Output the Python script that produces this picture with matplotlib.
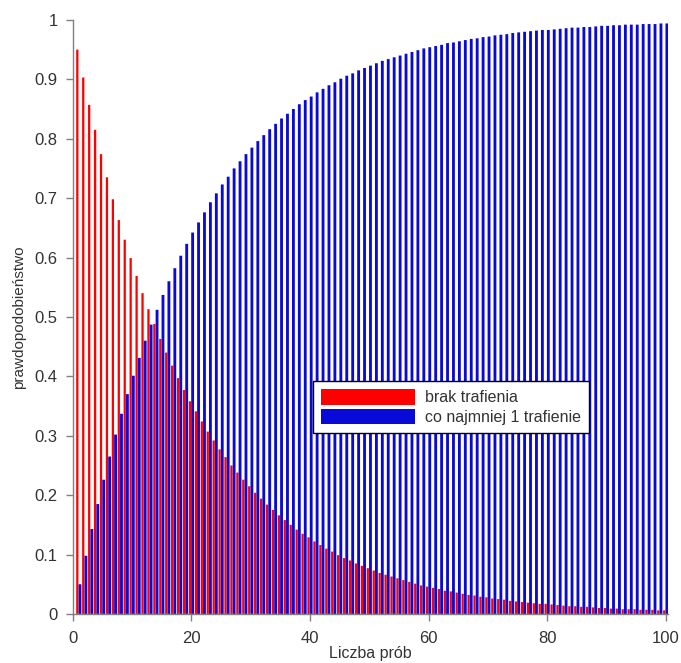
import numpy as np
import matplotlib.pyplot as plt

plt.rcParams['font.family'] = ['Liberation Sans', 'DejaVu Sans']

# number of trials
trials = np.arange(1, 101)

# probability of no hit
p_miss = [
    0.950, 0.903, 0.857, 0.815, 0.774, 0.735, 0.698, 0.663, 0.630, 0.599,
    0.569, 0.540, 0.513, 0.488, 0.463, 0.440, 0.418, 0.397, 0.377, 0.358,
    0.341, 0.324, 0.307, 0.292, 0.277, 0.264, 0.250, 0.238, 0.226, 0.215,
    0.204, 0.194, 0.184, 0.175, 0.166, 0.158, 0.150, 0.142, 0.135, 0.129,
    0.122, 0.116, 0.110, 0.105, 0.099, 0.094, 0.090, 0.085, 0.081, 0.077,
    0.073, 0.069, 0.066, 0.063, 0.060, 0.057, 0.054, 0.051, 0.048, 0.046,
    0.044, 0.042, 0.039, 0.038, 0.036, 0.034, 0.032, 0.031, 0.029, 0.028,
    0.026, 0.025, 0.024, 0.022, 0.021, 0.020, 0.019, 0.018, 0.017, 0.017,
    0.016, 0.015, 0.014, 0.013, 0.013, 0.012, 0.012, 0.011, 0.010, 0.010,
    0.009, 0.009, 0.008, 0.008, 0.008, 0.007, 0.007, 0.007, 0.006, 0.006,
]

# probability of at least one hit
p_hit = [
    0.050, 0.098, 0.143, 0.185, 0.226, 0.265, 0.302, 0.337, 0.370, 0.401,
    0.431, 0.460, 0.487, 0.512, 0.537, 0.560, 0.582, 0.603, 0.623, 0.642,
    0.659, 0.676, 0.693, 0.708, 0.723, 0.736, 0.750, 0.762, 0.774, 0.785,
    0.796, 0.806, 0.816, 0.825, 0.834, 0.842, 0.850, 0.858, 0.865, 0.871,
    0.878, 0.884, 0.890, 0.895, 0.901, 0.906, 0.910, 0.915, 0.919, 0.923,
    0.927, 0.931, 0.934, 0.937, 0.940, 0.943, 0.946, 0.949, 0.952, 0.954,
    0.956, 0.958, 0.961, 0.962, 0.964, 0.966, 0.968, 0.969, 0.971, 0.972,
    0.974, 0.975, 0.976, 0.978, 0.979, 0.980, 0.981, 0.982, 0.983, 0.983,
    0.984, 0.985, 0.986, 0.987, 0.987, 0.988, 0.988, 0.989, 0.990, 0.990,
    0.991, 0.991, 0.992, 0.992, 0.992, 0.993, 0.993, 0.993, 0.994, 0.994,
]

labels = ['brak trafienia', 'co najmniej 1 trafienie']
red = '#ff0000'
blue = '#0a0ad8'
txt = '#333333'


def main():
    fig = plt.figure(figsize=(6.81, 6.63), dpi=100)
    ax = fig.add_axes([0.107, 0.074, 0.874, 0.896])

    # no snapping, so the thin bars keep an even width
    ax.bar(trials - 0.25, p_miss, width=0.38, color=red, linewidth=0,
           snap=False, label=labels[0])
    ax.bar(trials + 0.2, p_hit, width=0.48, color=blue, linewidth=0,
           snap=False, label=labels[1])

    ax.set_xlim(0, 100.4)
    ax.set_ylim(0, 1)
    ax.set_xticks([0, 20, 40, 60, 80, 100])
    ax.set_yticks(np.arange(0, 1.01, 0.1))
    ax.set_yticklabels(['0', '0.1', '0.2', '0.3', '0.4', '0.5',
                        '0.6', '0.7', '0.8', '0.9', '1'])

    for side in ('top', 'right'):
        ax.spines[side].set_visible(False)
    for side in ('left', 'bottom'):
        ax.spines[side].set_color('#808080')
        ax.spines[side].set_linewidth(1.0)
    ax.tick_params(colors='#808080', labelcolor=txt, labelsize=12,
                   length=5, width=1.0)
    ax.tick_params(axis='x', pad=7)
    ax.tick_params(axis='y', pad=6)

    ax.set_xlabel('Liczba prób', fontsize=11.5, color=txt, labelpad=0)
    ax.set_ylabel('prawdopodobieństwo', fontsize=11, color=txt, labelpad=6)

    leg = ax.legend(loc='upper left',
                    bbox_to_anchor=(313 / 681, 1 - 381 / 663),
                    bbox_transform=fig.transFigure,
                    fontsize=11.5, handlelength=5.9, handleheight=1.15,
                    labelspacing=0.2, handletextpad=0.6,
                    borderpad=0.5, fancybox=False, framealpha=1.0,
                    edgecolor='black', borderaxespad=0)
    leg.get_frame().set_linewidth(1.0)
    for t in leg.get_texts():
        t.set_color(txt)

    fig.savefig('out.png', dpi=100)


if __name__ == '__main__':
    main()
